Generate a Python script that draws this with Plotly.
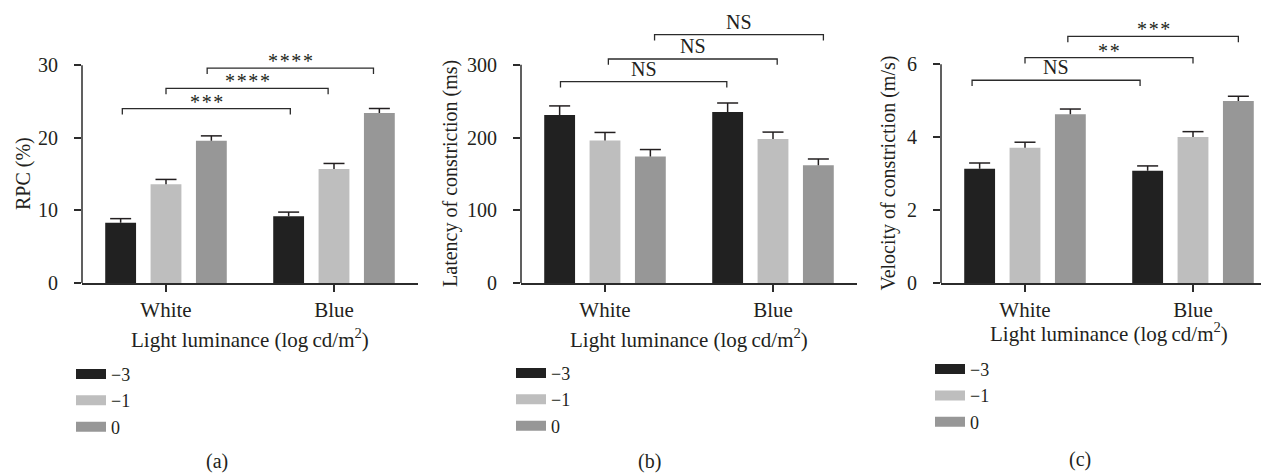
import plotly.graph_objects as go

W, H = 1269, 474
FONT = "Liberation Serif, Times New Roman, serif"
INK = "#231f20"
AXC = "#2b2b2b"

categories = ["White", "Blue"]
levels = ["\u22123", "\u22121", "0"]
colors = ["#212121", "#bebebe", "#979797"]

# Panel (a): RPC (%)
rpc_m3 = [8.3, 9.2]
rpc_m1 = [13.6, 15.7]
rpc_0 = [19.6, 23.4]
rpc_err_m3 = [0.56, 0.56]
rpc_err_m1 = [0.66, 0.76]
rpc_err_0 = [0.66, 0.63]

# Panel (b): latency of constriction (ms)
lat_m3 = [231, 235]
lat_m1 = [196, 198]
lat_0 = [174, 162]
lat_err_m3 = [12.5, 12.5]
lat_err_m1 = [11.0, 9.5]
lat_err_0 = [9.5, 8.5]

# Panel (c): velocity of constriction (m/s)
vel_m3 = [3.13, 3.08]
vel_m1 = [3.71, 4.00]
vel_0 = [4.63, 4.99]
vel_err_m3 = [0.16, 0.13]
vel_err_m1 = [0.15, 0.15]
vel_err_0 = [0.14, 0.13]

# significance brackets: (left x, right x, height, label)
sig_a = [(-0.26, 0.74, 24.0, "***"), (0.0, 0.965, 26.8, "****"), (0.245, 1.235, 29.6, "****")]
sig_b = [(-0.265, 0.725, 277, "NS"), (0.02, 1.025, 308, "NS"), (0.295, 1.30, 341.5, "NS")]
sig_c = [(-0.315, 0.685, 5.56, "NS"), (0.0, 1.0, 6.18, "**"), (0.255, 1.27, 6.76, "***")]

y_titles = ["RPC (%)", "Latency of constriction (ms)", "Velocity of constriction (m/s)"]
x_title = "Light luminance (log\u2009cd/m<sup>2</sup>)"
panel_tags = ["(a)", "(b)", "(c)"]
y_ticks = [[0, 10, 20, 30], [0, 100, 200, 300], [0, 2, 4, 6]]

panels = [
    dict(means=[rpc_m3, rpc_m1, rpc_0], errs=[rpc_err_m3, rpc_err_m1, rpc_err_0], sig=sig_a,
         xpx=(74, 410), ppu=7.433, ytop=31.5, ytitle_x=15, xtitle_y=338, tag_xy=(209, 464),
         leg_xy=(63, 356)),
    dict(means=[lat_m3, lat_m1, lat_0], errs=[lat_err_m3, lat_err_m1, lat_err_0], sig=sig_b,
         xpx=(513, 849), ppu=0.7444, ytop=360, ytitle_x=443, xtitle_y=338, tag_xy=(642, 464),
         leg_xy=(503, 355)),
    dict(means=[vel_m3, vel_m1, vel_0], errs=[vel_err_m3, vel_err_m1, vel_err_0], sig=sig_c,
         xpx=(933, 1269), ppu=37.33, ytop=7.0, ytitle_x=881, xtitle_y=332, tag_xy=(1072, 462),
         leg_xy=(922, 351)),
]

BOTTOM = 281.5
BRACKET_DROP_PX = 6

fig = go.Figure()
layout = dict(
    width=W, height=H, margin=dict(l=0, r=0, t=0, b=0),
    paper_bgcolor="white", plot_bgcolor="white",
    barmode="group", bargap=0.19, bargroupgap=0.32,
    scattermode="group", scattergap=0.19,
    font=dict(family=FONT, color=INK, size=18),
    shapes=[], annotations=[],
)

for p_i, p in enumerate(panels):
    n = "" if p_i == 0 else str(p_i + 1)
    xa, ya = "x" + n, "y" + n
    leg = "legend" + n
    for k, lvl in enumerate(levels):
        fig.add_trace(go.Bar(
            x=[0, 1], y=p["means"][k], name=lvl, offsetgroup=str(k),
            marker=dict(color=colors[k], line=dict(width=0)),
            error_y=dict(type="data", array=p["errs"][k], arrayminus=[0, 0], symmetric=False,
                         width=0, thickness=1.5, color=INK),
            xaxis=xa, yaxis=ya, showlegend=False, hoverinfo="skip"))
    for k, lvl in enumerate(levels):
        tops = [m + e for m, e in zip(p["means"][k], p["errs"][k])]
        fig.add_trace(go.Scatter(
            x=[0, 1], y=tops, mode="markers", offsetgroup=str(k), orientation="v",
            marker=dict(symbol="line-ew", size=15, line=dict(width=1.5, color=INK)),
            xaxis=xa, yaxis=ya, showlegend=False, cliponaxis=False, hoverinfo="skip"))
    for k, lvl in enumerate(levels):
        fig.add_trace(go.Scatter(
            x=[None], y=[None], mode="lines", name=lvl,
            line=dict(color=colors[k], width=15),
            xaxis=xa, yaxis=ya, legend=leg, showlegend=True))

    x0, x1 = p["xpx"]
    ydom = [1 - BOTTOM / H, 1 - (BOTTOM - p["ytop"] * p["ppu"]) / H]
    layout["xaxis" + n] = dict(
        domain=[x0 / W, x1 / W], range=[-0.5, 1.5], anchor=ya,
        tickvals=[0, 1], ticktext=categories, showline=True, linecolor=AXC, linewidth=1.5,
        ticks="outside", ticklen=7, tickwidth=1.5, tickcolor=AXC, showgrid=False, zeroline=False,
        tickfont=dict(size=21, family=FONT, color=INK), fixedrange=True)
    layout["yaxis" + n] = dict(
        domain=ydom, range=[0, p["ytop"]], anchor=xa, tickvals=y_ticks[p_i],
        showline=False, ticks="outside", ticklen=7, tickwidth=1.5, tickcolor=AXC,
        showgrid=False, zeroline=False, ticklabelstandoff=12,
        tickfont=dict(size=20, family=FONT, color=INK), fixedrange=True)
    # y axis line up to the top tick
    layout["shapes"].append(dict(type="line", xref=xa + " domain", x0=0, x1=0, yref=ya,
                                 y0=0, y1=y_ticks[p_i][-1], line=dict(color=AXC, width=1.5)))
    drop = BRACKET_DROP_PX / p["ppu"]
    for (bx0, bx1, by, lab) in p["sig"]:
        layout["shapes"].append(dict(
            type="path", xref=xa, yref=ya,
            path=f"M{bx0},{by - drop} L{bx0},{by} L{bx1},{by} L{bx1},{by - drop}",
            line=dict(color=AXC, width=1.3)))
        shown = "\u200a".join(lab) if "*" in lab else lab
        layout["annotations"].append(dict(
            x=(bx0 + bx1) / 2, y=by, xref=xa, yref=ya, text=shown, showarrow=False,
            xanchor="center", yanchor="bottom", yshift=(-6 if "*" in lab else 0),
            font=dict(size=20, family=FONT, color=INK)))
    # y title
    layout["annotations"].append(dict(
        x=p["ytitle_x"] / W, xref="paper", y=y_ticks[p_i][-1] / 2, yref=ya,
        text=y_titles[p_i], textangle=-90, showarrow=False, xanchor="center", yanchor="middle",
        font=dict(size=20, family=FONT, color=INK)))
    # x title
    layout["annotations"].append(dict(
        x=(x0 + x1) / 2 / W, xref="paper", y=1 - p["xtitle_y"] / H, yref="paper",
        text=x_title, showarrow=False, xanchor="center", yanchor="middle",
        font=dict(size=21, family=FONT, color=INK)))
    # panel tag
    tx, ty = p["tag_xy"]
    layout["annotations"].append(dict(
        x=tx / W, xref="paper", y=1 - ty / H, yref="paper", text=panel_tags[p_i],
        showarrow=False, xanchor="center", yanchor="middle",
        font=dict(size=20, family=FONT, color=INK)))
    lx, ly = p["leg_xy"]
    layout[leg] = dict(
        x=lx / W, y=1 - ly / H, xanchor="left", yanchor="top", xref="paper", yref="paper",
        bgcolor="rgba(0,0,0,0)", borderwidth=0, itemwidth=30, tracegroupgap=0,
        traceorder="normal", font=dict(size=18, family=FONT, color=INK),
        itemclick=False, itemdoubleclick=False)

fig.update_layout(**layout)
fig.write_html("out.html")
